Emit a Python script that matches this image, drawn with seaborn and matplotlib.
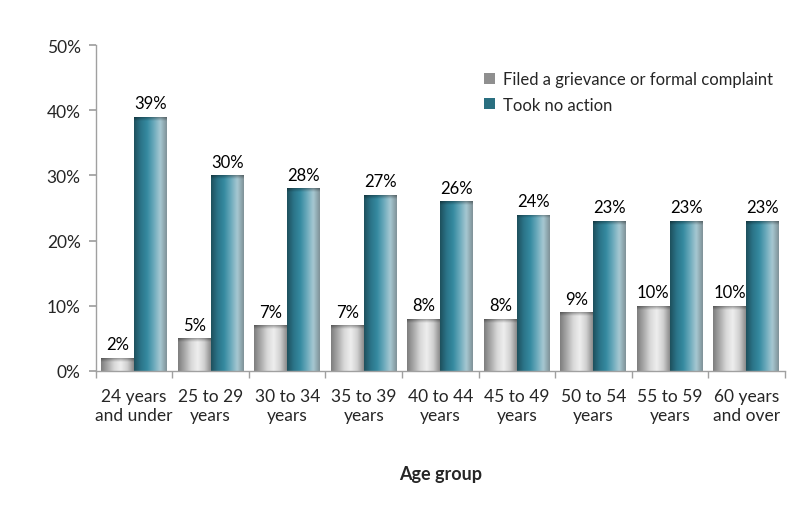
import numpy as np
import pandas as pd
import matplotlib
matplotlib.use("Agg")
import matplotlib.pyplot as plt
from matplotlib.colors import LinearSegmentedColormap
from matplotlib.patches import Patch
import seaborn as sns

categories = ["24 years\nand under", "25 to 29\nyears", "30 to 34\nyears", "35 to 39\nyears",
              "40 to 44\nyears", "45 to 49\nyears", "50 to 54\nyears", "55 to 59\nyears",
              "60 years\nand over"]
filed = [2, 5, 7, 7, 8, 8, 9, 10, 10]
no_action = [39, 30, 28, 27, 26, 24, 23, 23, 23]
series_names = ["Filed a grievance or formal complaint", "Took no action"]

df = pd.DataFrame({
    "Age group": categories * 2,
    "value": filed + no_action,
    "series": [series_names[0]] * len(categories) + [series_names[1]] * len(categories),
})

sns.set_theme(style="white")
plt.rcParams["font.family"] = ["Lato", "DejaVu Sans"]

fig = plt.figure(figsize=(7.99, 5.10), dpi=100)
ax = fig.add_axes([0.120, 0.2706, 0.862, 0.6392])

base_colors = {series_names[0]: "#b5b5b5", series_names[1]: "#2e7f92"}
sns.barplot(data=df, x="Age group", y="value", hue="series", palette=base_colors,
            width=0.86, ax=ax, saturation=1, errorbar=None, legend=False)

gray_cmap = LinearSegmentedColormap.from_list(
    "g", ["#7d7d7d", "#a8a8a8", "#d8d8d8", "#eeeeee", "#d0d0d0", "#8a8a8a"])
teal_cmap = LinearSegmentedColormap.from_list(
    "t", ["#1d4f5c", "#2b7488", "#358aa0", "#6aa9bb", "#a7c8d2", "#7f9196"])

grad = np.linspace(0, 1, 256).reshape(1, -1)
ax.set_xlim(-0.5, len(categories) - 0.5)
ax.set_ylim(0, 50)

n = len(categories)
for i, patch in enumerate(list(ax.patches)[: 2 * n]):
    cmap = gray_cmap if i < n else teal_cmap
    x0, y0 = patch.get_x(), patch.get_y()
    w, h = patch.get_width(), patch.get_height()
    if h <= 0:
        continue
    im = ax.imshow(grad, cmap=cmap, aspect="auto", extent=[x0, x0 + w, y0, y0 + h],
                   zorder=patch.get_zorder() + 0.1, interpolation="bicubic")
    im.set_clip_path(patch)
    top = ax.imshow(np.linspace(0, 1, 50).reshape(-1, 1), cmap=LinearSegmentedColormap.from_list(
        "a", [(0, 0, 0, 0.35), (0, 0, 0, 0.0)]), aspect="auto",
        extent=[x0, x0 + w, y0 + h - 0.6, y0 + h], zorder=patch.get_zorder() + 0.2)
    top.set_clip_path(patch)
    patch.set_edgecolor("none")
    ax.annotate(f"{int(round(h))}%", (x0 + w / 2, y0 + h), xytext=(0, 4),
                textcoords="offset points", ha="center", va="bottom",
                fontsize=12, color="#000000")

ax.set_xlim(-0.5, len(categories) - 0.5)
ax.set_ylim(0, 50)
ax.set_yticks(range(0, 51, 10))
ax.set_yticklabels([f"{v}%" for v in range(0, 51, 10)])
ax.set_xticks(np.arange(-0.5, n, 1), minor=True)
ax.tick_params(axis="x", which="major", length=0, labelsize=12.5, pad=12)
ax.tick_params(axis="x", which="minor", length=5, color="#a0a0a0", direction="out", bottom=True)
ax.tick_params(axis="y", length=5, color="#a0a0a0", direction="out", labelsize=12.5, left=True, pad=6)
for lbl in ax.get_xticklabels():
    lbl.set_linespacing(1.25)
ax.set_ylabel("")
ax.set_xlabel("Age group", fontsize=13, fontweight="bold", labelpad=30)

for s in ["top", "right"]:
    ax.spines[s].set_visible(False)
for s in ["left", "bottom"]:
    ax.spines[s].set_color("#a0a0a0")
    ax.spines[s].set_linewidth(1)

handles = [Patch(facecolor="#8f8f8f", edgecolor="none"), Patch(facecolor="#2a6f80", edgecolor="none")]
ax.legend(handles, series_names, loc="upper right", bbox_to_anchor=(1.005, 0.965), frameon=False,
          fontsize=12, handlelength=0.65, handleheight=0.65, handletextpad=0.5, labelspacing=0.55)

fig.savefig("out.png", dpi=100)
